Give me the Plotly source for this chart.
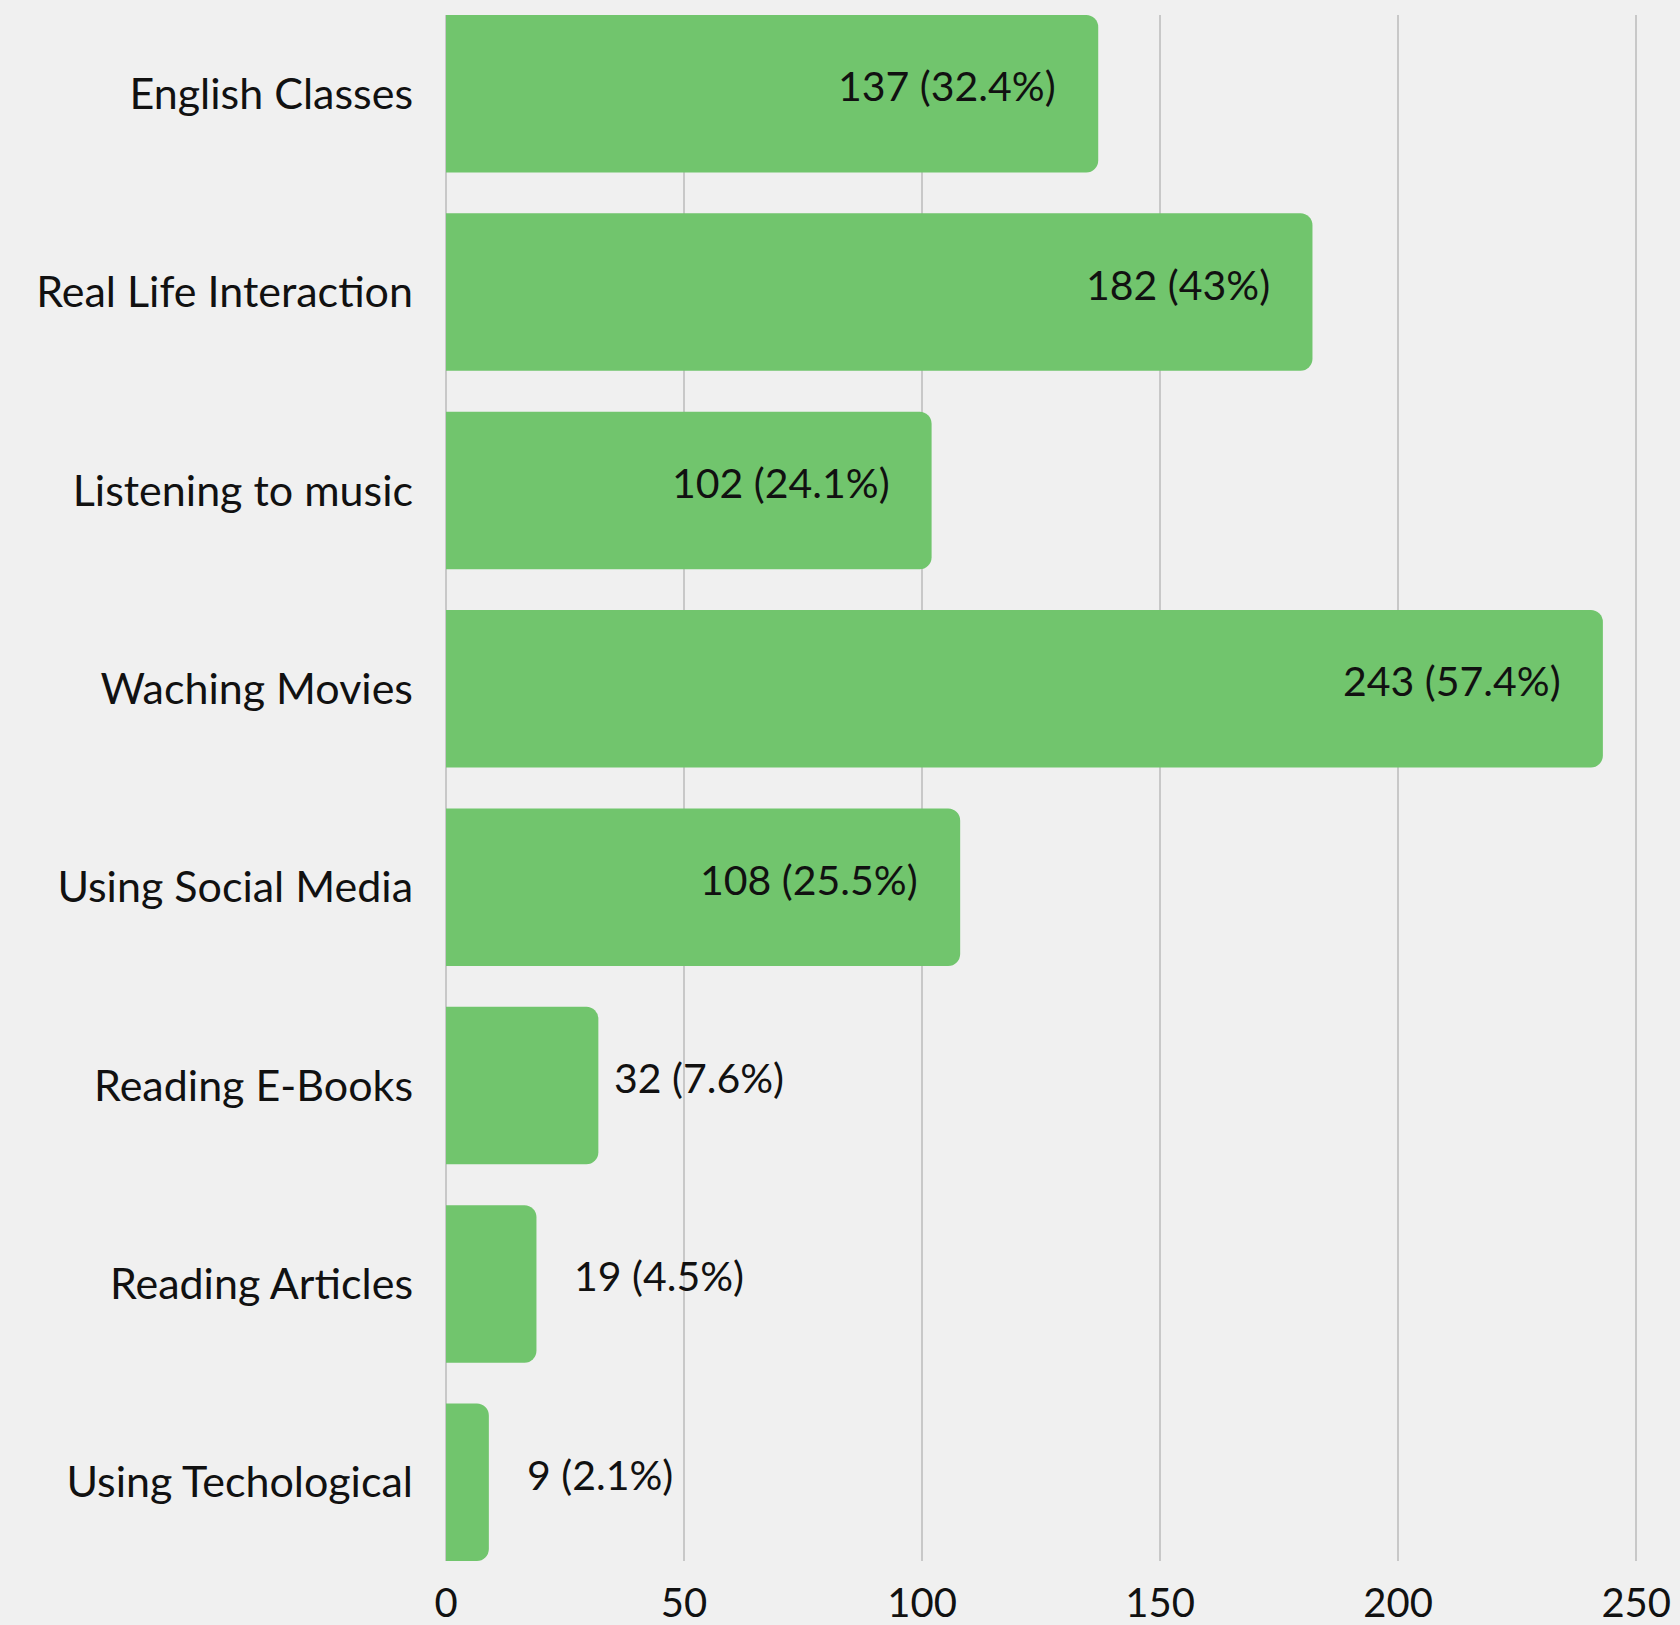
import plotly.graph_objects as go

categories = ["English Classes", "Real Life Interaction", "Listening to music",
              "Waching Movies", "Using Social Media", "Reading E-Books",
              "Reading Articles", "Using Techological"]
counts = [137, 182, 102, 243, 108, 32, 19, 9]
percent_labels = ["32.4%", "43%", "24.1%", "57.4%", "25.5%", "7.6%", "4.5%", "2.1%"]
x_ticks = [0, 50, 100, 150, 200, 250]

FONT = "Lato"
BAR = "#71C56D"
BG = "#F0F0F0"

fig = go.Figure()
fig.add_trace(go.Bar(
    x=counts, y=categories, orientation="h",
    marker=dict(color=BAR, line=dict(width=0), cornerradius=12),
    hoverinfo="skip",
))

annotations = []
for c, v, p in zip(categories, counts, percent_labels):
    inside = v >= 100
    if inside:
        xanchor, xshift = "right", -40
    else:
        xanchor, xshift = "left", (14 if v >= 30 else 36)
    annotations.append(dict(
        x=v, y=c, xref="x", yref="y", text=f"{v} ({p})", showarrow=False,
        xanchor=xanchor, xshift=xshift, yshift=8,
        font=dict(family=FONT, size=41, color="#111111"),
    ))

fig.update_layout(
    width=1680, height=1625,
    margin=dict(l=446, r=0, t=15, b=64),
    paper_bgcolor=BG, plot_bgcolor=BG,
    bargap=0.206,
    showlegend=False,
    annotations=annotations,
    font=dict(family=FONT, color="#111111"),
)
fig.update_xaxes(
    range=[0, 259.2], tickvals=x_ticks, ticktext=[str(t) for t in x_ticks],
    showgrid=True, gridcolor="#C8C8C8", gridwidth=1.5,
    zeroline=True, zerolinecolor="#C8C8C8", zerolinewidth=1.5,
    showline=False, ticks="",
    tickfont=dict(family=FONT, size=40, color="#111111"),
    ticklabelstandoff=15,
)
fig.update_yaxes(
    categoryorder="array", categoryarray=categories,
    autorange=False, range=[7.397, -0.397],
    showgrid=False, zeroline=False, showline=False, ticks="",
    tickfont=dict(family=FONT, size=43, color="#111111"),
    ticklabelstandoff=32,
)

fig.write_html(
    "out.html",
    config={"displayModeBar": False},
    post_script="document.body.style.margin='0px';document.body.style.background='#F0F0F0';",
)
